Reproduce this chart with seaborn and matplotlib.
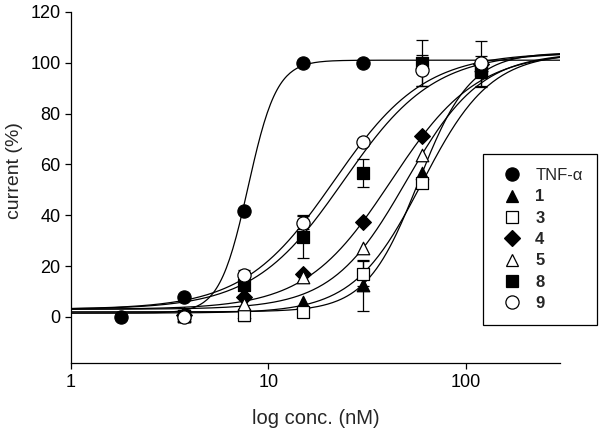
import numpy as np
import pandas as pd
import matplotlib
matplotlib.use("Agg")
import matplotlib.pyplot as plt
from matplotlib.lines import Line2D
import seaborn as sns

sns.set_style("ticks")
plt.rcParams['font.family'] = ['Liberation Sans', 'DejaVu Sans']

# concentrations (nM)
conc = [1.8, 3.75, 7.5, 15, 30, 60, 120]

# mean current (%) per compound, NaN where no point is drawn
tnf  = [0.0, 7.9, 41.6, 100.0, 100.0, np.nan, np.nan]
c1   = [np.nan, 0.5, 2.0, 5.9, 12.5, 56.5, 99.0]
c3   = [np.nan, 0.3, 0.7, 2.0, 17.0, 52.5, 97.0]
c4   = [np.nan, 0.8, 7.9, 17.0, 37.4, 71.0, 99.5]
c5   = [np.nan, 0.6, 5.0, 15.7, 27.0, 63.6, 99.0]
c8   = [np.nan, 0.4, 12.5, 31.5, 56.7, 100.0, 96.5]
c9   = [np.nan, 0.0, 16.4, 37.0, 68.9, 97.0, 99.7]

# error bars (+/-)
e_tnf = [0, 0, 0, 0, 0, 0, 0]
e1    = [0, 0, 0, 0, 10.0, 0, 0]
e3    = [0, 0, 2.5, 0, 5.0, 0, 0]
e4    = [0, 0, 0, 0, 0, 0, 0]
e5    = [0, 0, 0, 0, 0, 0, 0]
e8    = [0, 0, 0, 8.5, 5.6, 9.0, 6.0]
e9    = [0, 1.5, 2.0, 2.5, 0, 6.0, 9.0]

# logistic fit parameters: bottom, top, EC50, hill
fits = {
    'TNF': (1.5, 101.0, 7.9, 6.0),
    '1':   (2.0, 104.0, 57.5, 3.3),
    '3':   (1.5, 104.0, 60.0, 2.5),
    '4':   (3.0, 104.0, 41.8, 2.0),
    '5':   (3.0, 104.0, 50.0, 2.3),
    '8':   (3.0, 104.0, 24.0, 1.9),
    '9':   (3.0, 104.0, 21.5, 1.9),
}

names = ['TNF', '1', '3', '4', '5', '8', '9']
labels = ['TNF-α', '1', '3', '4', '5', '8', '9']
values = [tnf, c1, c3, c4, c5, c8, c9]
errors = [e_tnf, e1, e3, e4, e5, e8, e9]
markers = ['o', '^', 's', 'D', '^', 's', 'o']
filled = [True, True, False, True, False, True, False]
msizes = [9.5, 9, 8.5, 8, 9, 8.5, 9.5]

fig = plt.figure(figsize=(6.03, 4.41), dpi=100)
ax = fig.add_axes([0.1177, 0.176, 0.811, 0.797])

xs = np.logspace(0, np.log10(300), 300)
for n in names:
    b, t, ec, h = fits[n]
    curve = pd.DataFrame({'x': xs, 'y': b + (t - b) / (1 + (ec / xs) ** h)})
    sns.lineplot(data=curve, x='x', y='y', ax=ax, color='black', lw=0.9, zorder=2)

for n, v, e, m, f, ms in zip(names, values, errors, markers, filled, msizes):
    df = pd.DataFrame({'x': conc, 'y': v, 'err': e}).dropna()
    eb = df[df.err > 0]
    ax.errorbar(eb.x, eb.y, yerr=eb.err, fmt='none', ecolor='black',
                elinewidth=0.9, capsize=4, capthick=0.9, zorder=3)
    sns.scatterplot(data=df, x='x', y='y', ax=ax, marker=m, s=ms ** 2,
                    color='black' if f else 'white', edgecolor='black',
                    linewidth=0.9, zorder=4)

ax.set_xscale('log')
ax.set_xlim(1, 300)
ax.set_ylim(-18.3, 120)
ax.set_xticks([1, 10, 100])
ax.set_xticklabels(['1', '10', '100'])
ax.xaxis.set_minor_locator(matplotlib.ticker.NullLocator())
ax.set_yticks([0, 20, 40, 60, 80, 100, 120])
ax.tick_params(direction='out', length=4, width=0.9, labelsize=13, colors='black')
ax.set_xlabel('log conc. (nM)', fontsize=14.5, labelpad=13)
ax.set_ylabel('current (%)', fontsize=14)
ax.yaxis.set_label_coords(-0.098, 0.55)
sns.despine(ax=ax)
for s in ['left', 'bottom']:
    ax.spines[s].set_linewidth(0.9)
    ax.spines[s].set_color('black')

handles = [Line2D([], [], marker=m, ls='none', markersize=ms,
                  markerfacecolor='black' if f else 'white',
                  markeredgecolor='black', markeredgewidth=0.9)
           for m, f, ms in zip(markers, filled, msizes)]
leg = fig.legend(handles, labels, loc='upper left', bbox_to_anchor=(0.801, 0.651),
                 bbox_transform=fig.transFigure, borderaxespad=0, frameon=True,
                 fancybox=False, edgecolor='black', framealpha=1, fontsize=12,
                 handletextpad=0.48, labelspacing=0.38, borderpad=0.85,
                 handlelength=1.8)
leg.get_frame().set_linewidth(0.9)
for txt in leg.get_texts()[1:]:
    txt.set_fontweight('bold')

fig.savefig('out.png', dpi=100)
